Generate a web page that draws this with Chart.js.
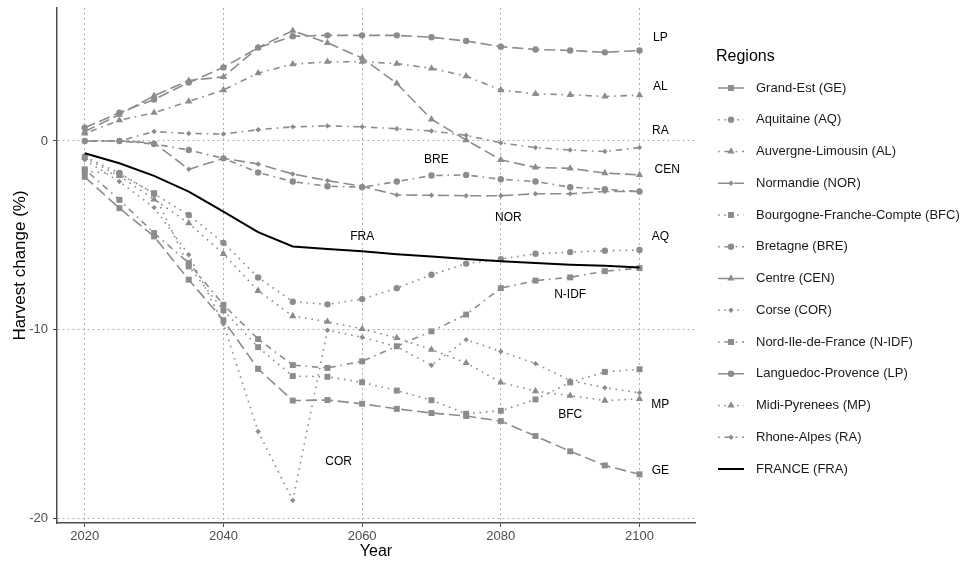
<!DOCTYPE html>
<html>
<head>
<meta charset="utf-8">
<script src="https://cdn.jsdelivr.net/npm/chart.js"></script>
<style>
  body { margin: 0; background: #fff; }
  #wrap { width: 971px; height: 564px; }
</style>
</head>
<body>
<div id="wrap"><canvas id="chart" width="971" height="564"></canvas></div>
<script>
// years on the x axis
const years = [2020, 2025, 2030, 2035, 2040, 2045, 2050, 2055, 2060, 2065, 2070, 2075, 2080, 2085, 2090, 2095, 2100];
const xTicks = [2020, 2040, 2060, 2080, 2100];
const yTicks = [-20, -10, 0];

const regionLabels = [
  'Grand-Est (GE)', 'Aquitaine (AQ)', 'Auvergne-Limousin (AL)', 'Normandie (NOR)',
  'Bourgogne-Franche-Compte (BFC)', 'Bretagne (BRE)', 'Centre (CEN)', 'Corse (COR)',
  'Nord-Ile-de-France (N-IDF)', 'Languedoc-Provence (LP)', 'Midi-Pyrenees (MP)',
  'Rhone-Alpes (RA)', 'FRANCE (FRA)'
];

// harvest change (%) per region
const ge   = [-1.9, -3.56, -5.06, -7.35, -9.5, -12.08, -13.76, -13.73, -13.93, -14.2, -14.42, -14.58, -14.85, -15.64, -16.45, -17.2, -17.67];
const aq   = [-0.83, -1.7, -2.8, -3.92, -5.4, -7.23, -8.52, -8.66, -8.38, -7.8, -7.09, -6.5, -6.26, -5.98, -5.89, -5.82, -5.78];
const al   = [0.4, 1.1, 1.5, 2.1, 2.7, 3.6, 4.07, 4.2, 4.2, 4.1, 3.85, 3.44, 2.7, 2.5, 2.45, 2.36, 2.43];
const nor  = [0, 0, -0.1, -1.5, -0.92, -1.22, -1.75, -2.1, -2.4, -2.86, -2.88, -2.9, -2.9, -2.8, -2.8, -2.68, -2.68];
const bfc  = [-1.6, -1.75, -2.77, -6.65, -8.98, -10.93, -12.46, -12.5, -12.79, -13.23, -13.74, -14.46, -14.3, -13.7, -12.8, -12.24, -12.1];
const bre  = [0, 0, -0.16, -0.48, -0.92, -1.67, -2.15, -2.4, -2.45, -2.15, -1.83, -1.8, -2.03, -2.15, -2.45, -2.56, -2.68];
const cen  = [0.5, 1.4, 2.4, 3.2, 3.4, 4.95, 5.85, 5.2, 4.4, 3.05, 1.15, 0.05, -1.0, -1.4, -1.45, -1.7, -1.8];
const cor  = [-1.0, -2.15, -3.53, -6.03, -9.7, -15.4, -19.05, -10.03, -10.4, -10.9, -11.89, -10.53, -11.16, -11.8, -12.7, -13.08, -13.35];
const nidf = [-1.5, -3.12, -4.88, -6.47, -8.68, -10.5, -11.88, -12.03, -11.68, -10.88, -10.09, -9.2, -7.8, -7.4, -7.23, -6.9, -6.74];
const lp   = [0.7, 1.5, 2.2, 3.1, 3.9, 4.95, 5.55, 5.6, 5.6, 5.6, 5.5, 5.3, 5.0, 4.85, 4.8, 4.7, 4.8];
const mp   = [-0.9, -1.85, -3.1, -4.36, -5.98, -7.94, -9.28, -9.58, -9.96, -10.44, -11.06, -11.76, -12.8, -13.26, -13.5, -13.76, -13.67];
const ra   = [0, 0, 0.5, 0.4, 0.37, 0.6, 0.75, 0.8, 0.75, 0.65, 0.53, 0.3, -0.1, -0.35, -0.48, -0.56, -0.35];
const fra  = [-0.65, -1.18, -1.85, -2.68, -3.74, -4.83, -5.59, -5.73, -5.85, -6.0, -6.12, -6.26, -6.38, -6.47, -6.56, -6.61, -6.7];

const series = [ge, aq, al, nor, bfc, bre, cen, cor, nidf, lp, mp, ra, fra];

// text labels inside the panel (data coordinates)
const tagText = ['LP', 'AL', 'RA', 'CEN', 'AQ', 'MP', 'GE', 'BRE', 'NOR', 'FRA', 'N-IDF', 'BFC', 'COR'];
const tagYear = [2103, 2103, 2103, 2104, 2103, 2103, 2103, 2070.7, 2081.1, 2060, 2090, 2090, 2056.6];
const tagValue = [5.45, 2.9, 0.53, -1.53, -5.08, -14.0, -17.46, -1.0, -4.07, -5.08, -8.15, -14.5, -17.0];

const GREY = '#8c8c8c';
const FONT = '"Liberation Sans", Arial, Helvetica, sans-serif';
const lw = 1.6;
const dashes = {
  longdash: [7 * lw, 3 * lw],
  dotted: [1 * lw, 3 * lw],
  dotdash: [1 * lw, 3 * lw, 4 * lw, 3 * lw]
};
const lineCycle = ['longdash', 'dotted', 'dotdash'];
const shapeCycle = ['rect', 'circle', 'triangle', 'rectRot'];
const shapeSize = { rect: 4.2, circle: 3.2, triangle: 4.2, rectRot: 2.7 };

const datasets = series.map((vals, i) => {
  const isFrance = i === series.length - 1;
  const shape = shapeCycle[i % 4];
  return {
    label: regionLabels[i],
    data: years.map((yr, k) => ({ x: yr, y: vals[k] })),
    borderColor: isFrance ? '#000000' : GREY,
    borderWidth: isFrance ? 2 : lw,
    borderDash: isFrance ? [] : dashes[lineCycle[i % 3]],
    pointStyle: shape,
    pointRadius: isFrance ? 0 : shapeSize[shape],
    pointBackgroundColor: GREY,
    pointBorderColor: GREY,
    pointBorderWidth: 0,
    tension: 0,
    fill: false,
    order: isFrance ? 0 : 1
  };
});

function drawMarker(ctx, style, x, y, r, color) {
  ctx.fillStyle = color;
  ctx.beginPath();
  if (style === 'rect') {
    const s = r * Math.SQRT1_2;
    ctx.rect(x - s, y - s, 2 * s, 2 * s);
  } else if (style === 'circle') {
    ctx.arc(x, y, r, 0, Math.PI * 2);
  } else if (style === 'triangle') {
    for (let k = 0; k < 3; k++) {
      const a = k * 2 * Math.PI / 3;
      const px = x + Math.sin(a) * r, py = y - Math.cos(a) * r;
      k === 0 ? ctx.moveTo(px, py) : ctx.lineTo(px, py);
    }
    ctx.closePath();
  } else {
    ctx.moveTo(x, y - r); ctx.lineTo(x + r, y); ctx.lineTo(x, y + r); ctx.lineTo(x - r, y);
    ctx.closePath();
  }
  ctx.fill();
}

const panelText = {
  id: 'panelText',
  afterDatasetsDraw(chart) {
    const { ctx, scales } = chart;
    ctx.save();
    ctx.fillStyle = '#000';
    ctx.font = '12px ' + FONT;
    ctx.textAlign = 'center';
    ctx.textBaseline = 'middle';
    tagText.forEach((t, i) => {
      ctx.fillText(t, scales.x.getPixelForValue(tagYear[i]), scales.y.getPixelForValue(tagValue[i]));
    });
    ctx.restore();
  }
};

const sideLegend = {
  id: 'sideLegend',
  afterDraw(chart) {
    const ctx = chart.ctx;
    ctx.save();
    ctx.textBaseline = 'middle';
    ctx.fillStyle = '#000';
    ctx.font = '16px ' + FONT;
    ctx.fillText('Regions', 716, 57);
    chart.data.datasets.forEach((ds, i) => {
      const y = 88 + i * 31.75;
      ctx.strokeStyle = ds.borderColor;
      ctx.lineWidth = ds.borderWidth;
      ctx.setLineDash(ds.borderDash);
      ctx.beginPath();
      ctx.moveTo(718, y);
      ctx.lineTo(744, y);
      ctx.stroke();
      ctx.setLineDash([]);
      if (ds.pointRadius > 0) drawMarker(ctx, ds.pointStyle, 731, y, ds.pointRadius, ds.pointBackgroundColor);
      ctx.fillStyle = '#1a1a1a';
      ctx.font = '13px ' + FONT;
      ctx.fillText(ds.label, 756, y);
    });
    ctx.restore();
  }
};

new Chart(document.getElementById('chart'), {
  type: 'line',
  data: { datasets: datasets },
  plugins: [panelText, sideLegend],
  options: {
    responsive: false,
    animation: false,
    layout: { padding: { top: 8, right: 276, left: 0, bottom: 0 } },
    plugins: { legend: { display: false }, tooltip: { enabled: false } },
    scales: {
      x: {
        type: 'linear',
        min: 2016,
        max: 2108,
        afterBuildTicks: (s) => { s.ticks = xTicks.map(v => ({ value: v })); },
        afterFit: (s) => { s.height = 41; s.paddingLeft = 0; s.paddingRight = 0; },
        grid: { color: '#b0b0b0', lineWidth: 1, tickLength: 4, tickColor: '#4d4d4d' },
        border: { display: true, color: '#4d4d4d', width: 1.5, dash: [2, 3] },
        ticks: { color: '#4d4d4d', font: { family: FONT, size: 13 }, padding: 2, maxRotation: 0, callback: v => String(v) },
        title: { display: true, text: 'Year', color: '#000', font: { family: FONT, size: 16, lineHeight: 1.2 }, padding: { top: 0, bottom: 3 } }
      },
      y: {
        type: 'linear',
        min: -20.25,
        max: 7.05,
        afterBuildTicks: (s) => { s.ticks = yTicks.map(v => ({ value: v })); },
        afterFit: (s) => { s.width = 57; s.paddingTop = 0; s.paddingBottom = 0; },
        grid: { color: '#b0b0b0', lineWidth: 1, tickLength: 4, tickColor: '#4d4d4d' },
        border: { display: true, color: '#4d4d4d', width: 1.5, dash: [2, 3] },
        ticks: { color: '#4d4d4d', font: { family: FONT, size: 13 }, padding: 5, callback: v => String(v) },
        title: { display: true, text: 'Harvest change (%)', color: '#000', font: { family: FONT, size: 17, lineHeight: 1.2 }, padding: { top: 10, bottom: 0 } }
      }
    }
  }
});
</script>
</body>
</html>
